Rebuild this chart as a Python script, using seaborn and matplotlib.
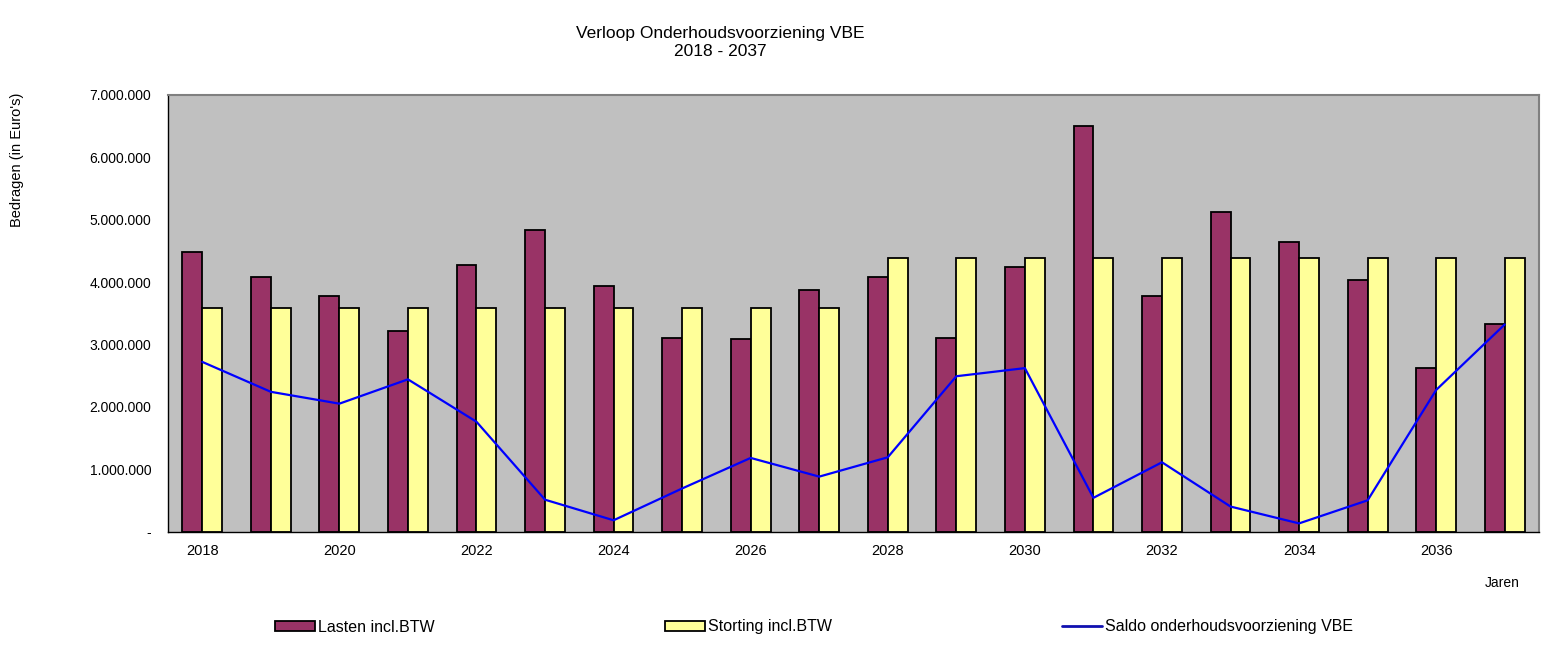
#!/usr/bin/env python3
import matplotlib

matplotlib.use("Agg")
import matplotlib.pyplot as plt
import numpy as np
import pandas as pd
import seaborn as sns
from matplotlib.lines import Line2D
from matplotlib.patches import Patch
from matplotlib.ticker import FixedLocator, FuncFormatter

# Jaren 2018 - 2037
years = [str(y) for y in range(2018, 2038)]

# Lasten incl. BTW (euro)
lasten = [4490000, 4080000, 3780000, 3210000, 4280000, 4840000, 3930000, 3110000, 3080000, 3870000,
          4080000, 3110000, 4240000, 6510000, 3780000, 5130000, 4650000, 4030000, 2630000, 3330000]

# Storting incl. BTW (euro)
storting = [3590000] * 10 + [4390000] * 10

# Saldo onderhoudsvoorziening VBE (euro)
saldo = [2720000, 2240000, 2050000, 2440000, 1760000, 510000, 180000, 690000, 1180000, 880000,
         1190000, 2490000, 2620000, 540000, 1110000, 400000, 130000, 500000, 2270000, 3320000]

series_names = ["Lasten incl.BTW", "Storting incl.BTW", "Saldo onderhoudsvoorziening VBE"]
colors = ["#993366", "#FFFF99", "#0000FF"]


def euro_fmt(v, _pos):
    if abs(v) < 1:
        return "-"
    return f"{int(round(v)):,}".replace(",", ".")


def main() -> None:
    sns.set_style("white")
    plt.rcParams["font.family"] = ["Liberation Sans", "DejaVu Sans"]
    plt.rcParams["text.color"] = "black"
    plt.rcParams["xtick.color"] = "black"
    plt.rcParams["ytick.color"] = "black"

    df = pd.DataFrame({
        "jaar": years * 2,
        "bedrag": lasten + storting,
        "reeks": [series_names[0]] * len(years) + [series_names[1]] * len(years),
    })

    fig = plt.figure(figsize=(15.59, 6.55), dpi=100)
    ax = fig.add_axes([168 / 1559, 1 - 531.5 / 655, (1539 - 168) / 1559, (531.5 - 95) / 655])
    ax.set_facecolor("#C0C0C0")

    sns.barplot(data=df, x="jaar", y="bedrag", hue="reeks", palette=colors[:2],
                width=0.58, gap=0, edgecolor="black", linewidth=1.3, saturation=1,
                legend=False, ax=ax, zorder=2)
    sns.lineplot(x=np.arange(len(years)), y=saldo, color=colors[2], linewidth=1.6,
                 ax=ax, zorder=3)

    ax.set_xlim(-0.5, len(years) - 0.5)
    ax.set_ylim(0, 7000000)
    ax.yaxis.set_major_locator(FixedLocator(np.arange(0, 7000001, 1000000)))
    ax.yaxis.set_major_formatter(FuncFormatter(euro_fmt))

    # labels elke twee jaar, tickstreepjes tussen de jaren
    ax.set_xticks(np.arange(0, len(years), 2))
    ax.set_xticklabels(years[::2])
    ax.set_xticks(np.arange(-0.5, len(years), 1), minor=True)
    ax.tick_params(axis="x", which="major", length=0, pad=9, labelsize=10.5)
    ax.tick_params(axis="x", which="minor", length=6, width=1, color="black", direction="out")
    ax.tick_params(axis="y", which="major", length=4, width=1, color="black", direction="out",
                   labelsize=10, pad=8)
    ax.set_xlabel("")
    ax.set_ylabel("")

    for side in ["left", "bottom"]:
        ax.spines[side].set_color("black")
        ax.spines[side].set_linewidth(1)
    for side in ["top", "right"]:
        ax.spines[side].set_color("#808080")
        ax.spines[side].set_linewidth(1.5)

    fig.text(0.462, 0.935, "Verloop Onderhoudsvoorziening VBE\n2018 - 2037", ha="center",
             va="center", fontsize=12.5, linespacing=1.2)
    fig.text(17 / 1559, 1 - 160 / 655, "Bedragen (in Euro's)", rotation=90, ha="center",
             va="center", fontsize=10.5)
    fig.text(1502 / 1559, 1 - 583 / 655, "Jaren", ha="center", va="center", fontsize=10)

    handles = [
        Patch(facecolor=colors[0], edgecolor="black", linewidth=1.3),
        Patch(facecolor=colors[1], edgecolor="black", linewidth=1.3),
        Line2D([0], [0], color="#1010B0", linewidth=2),
    ]
    # drie losse legenda-items, zoals in de Excel-grafiek
    starts = [275, 665, 1062]
    for handle, name, x0 in zip(handles, series_names, starts):
        fig.legend([handle], [name], loc="center left", bbox_to_anchor=(x0 / 1559, 1 - 627 / 655),
                   frameon=False, handlelength=2.5, handleheight=0.6, handletextpad=0.2,
                   borderpad=0, borderaxespad=0, fontsize=11.5)

    fig.savefig("out.png", dpi=100)
    plt.close(fig)


if __name__ == "__main__":
    main()
